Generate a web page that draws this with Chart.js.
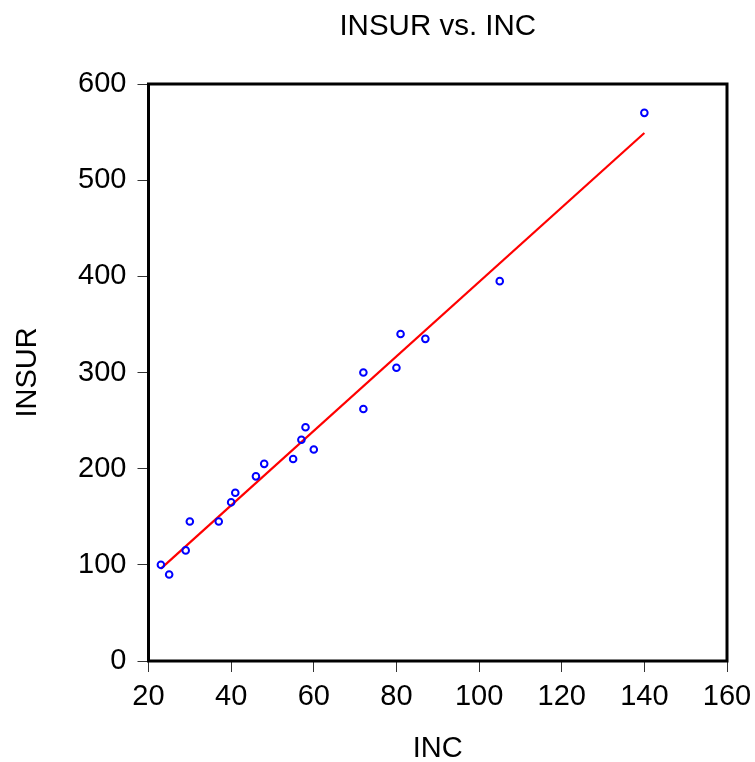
<!DOCTYPE html>
<html>
<head>
<meta charset="utf-8">
<script src="https://cdn.jsdelivr.net/npm/chart.js@4.4.1/dist/chart.umd.min.js"></script>
<style>
  html, body { margin: 0; padding: 0; background: #fff; }
  #wrap { width: 755px; height: 762px; }
</style>
</head>
<body>
<div id="wrap"><canvas id="myChart" width="755" height="762"></canvas></div>
<script>
// data
const inc   = [23, 25, 29, 30, 37, 40, 41, 46, 48, 55, 57, 58, 60, 72, 72, 80, 81, 87, 105, 140];
const insur = [100, 90, 115, 145, 145, 165, 175, 192, 205, 210, 230, 243, 220, 300, 262, 305, 340, 335, 395, 570];
// fitted line end points
const fitX = [23, 140];
const fitY = [96, 549];

const xTicks = [20, 40, 60, 80, 100, 120, 140, 160];
const yTicks = [0, 100, 200, 300, 400, 500, 600];

const FONT = "'Liberation Sans', Arial, sans-serif";

// box around the plot area
const boxPlugin = {
    id: 'box',
    afterDraw(chart) {
        const a = chart.chartArea;
        const ctx = chart.ctx;
        ctx.save();
        ctx.strokeStyle = '#000';
        ctx.lineWidth = 3;
        ctx.strokeRect(a.left, a.top, a.right - a.left, a.bottom - a.top);
        ctx.restore();
    }
};

const scatter_data = inc.map((x, i) => ({x: x, y: insur[i]}));
const fit_data = fitX.map((x, i) => ({x: x, y: fitY[i]}));

const config = {
    type: 'scatter',
    data: {
        datasets: [{
            label: 'INSUR',
            data: scatter_data,
            borderColor: '#0000ff',
            backgroundColor: 'rgba(0,0,0,0)',
            pointRadius: 3.3,
            pointBorderWidth: 2,
            pointHoverRadius: 3.3,
        }, {
            type: 'line',
            label: 'Fit',
            data: fit_data,
            borderColor: '#ff0000',
            borderWidth: 2.2,
            pointRadius: 0,
            fill: false,
        }]
    },
    options: {
        responsive: false,
        animation: false,
        events: [],
        layout: { padding: { left: 0, right: 0, top: 0, bottom: 0 } },
        plugins: {
            legend: { display: false },
            tooltip: { enabled: false },
            title: {
                display: true,
                text: 'INSUR vs. INC',
                color: '#000',
                fullSize: false,
                font: { family: FONT, size: 29.5, weight: 'normal', lineHeight: '30px' },
                padding: { top: 12, bottom: 42 }
            }
        },
        scales: {
            x: {
                type: 'linear',
                min: 20,
                max: 160,
                afterFit(scale) {
                    scale.height = 101;
                    scale.paddingLeft = 0;
                    scale.paddingRight = 28;
                },
                afterBuildTicks(scale) { scale.ticks = xTicks.map(v => ({value: v})); },
                border: { display: false },
                grid: { drawOnChartArea: false, drawTicks: true, tickLength: 11, color: '#333', lineWidth: 1 },
                ticks: { color: '#000', padding: 8, font: { family: FONT, size: 29 } },
                title: {
                    display: true,
                    text: 'INC',
                    color: '#000',
                    font: { family: FONT, size: 29, lineHeight: '26px' },
                    padding: { top: 0, bottom: 0 }
                }
            },
            y: {
                type: 'linear',
                min: 0,
                max: 600,
                afterFit(scale) { scale.width = 148.5; },
                afterBuildTicks(scale) { scale.ticks = yTicks.map(v => ({value: v})); },
                border: { display: false },
                grid: { drawOnChartArea: false, drawTicks: true, tickLength: 11, color: '#333', lineWidth: 1 },
                ticks: { color: '#000', padding: 11, font: { family: FONT, size: 29 } },
                title: {
                    display: true,
                    text: 'INSUR',
                    color: '#000',
                    font: { family: FONT, size: 29, lineHeight: '30px' },
                    padding: { top: 13, bottom: 0 }
                }
            }
        }
    },
    plugins: [boxPlugin]
};

const myChart = new Chart(document.getElementById('myChart'), config);
</script>
</body>
</html>
